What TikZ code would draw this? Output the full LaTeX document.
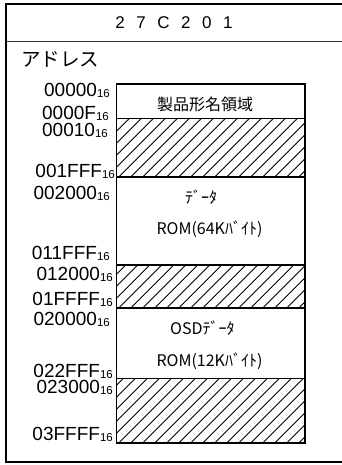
\documentclass[tikz,border=0pt]{standalone}
\usepackage{fontspec}
\setmainfont{Liberation Sans}
\newfontfamily\jp{Noto Sans CJK JP}
\newcommand\hexlab[1]{#1\raisebox{-1pt}{\fontsize{11.5}{12}\selectfont 16}}
\newcommand\tsp{\hspace{11.5pt}}
\newcommand\hatchband[2]{%
  \begin{scope}
    \clip (116.7,#1) rectangle (305,#2);
    \foreach \k in {0,...,26}{\draw[hatchline] (46.7+12*\k,#2) -- ++(75,-75);}
  \end{scope}}
\begin{document}
\begin{tikzpicture}[x=1pt,y=-1pt,
  addr/.style={anchor=base east, inner sep=0pt, font=\fontsize{19}{20}\selectfont},
  jtext/.style={inner sep=0pt, font=\jp\fontsize{16}{18}\selectfont},
  region/.style={draw=black, line width=1.2pt},
  hatchline/.style={line width=0.9pt},
  frame/.style={line width=2pt}]
\useasboundingbox (0,0) rectangle (341,465);
% outer frame (right side lies beyond the picture)
\draw[frame] (350,4.5) -- (5.5,4.5) -- (5.5,462) -- (350,462);
\draw[line width=1pt, black!80] (5.5,42) -- (350,42);
% title
\node[anchor=base, inner sep=0pt, font=\fontsize{17}{18}\selectfont] (title) at (174,29) {2\tsp7\tsp C\tsp2\tsp0\tsp1};
\node[anchor=base west, inner sep=0pt, font=\jp\fontsize{19.5}{21}\selectfont] (adr) at (21,67) {アドレス};
% hatched bands
\hatchband{118.3}{177}
\hatchband{265}{308}
\hatchband{378.3}{443}
% memory regions
\draw[region] (116.7,84) rectangle (305,443);
\draw[region] (116.7,118.3) -- (305,118.3);
\draw[region] (116.7,177) -- (305,177);
\draw[region] (116.7,265) -- (305,265);
\draw[region] (116.7,308) -- (305,308);
\draw[region] (116.7,378.3) -- (305,378.3);
% region texts
\node[jtext, anchor=base] (prod) at (205,110.5) {製品形名領域};
\node[jtext, anchor=base west] (data1) at (185,203) {ﾃﾞｰﾀ};
\node[jtext, anchor=base] (rom1) at (209.5,234.5) {ROM(64Kﾊﾞｲﾄ)};
\node[jtext, anchor=base west] (data2) at (170,334) {OSDﾃﾞｰﾀ};
\node[jtext, anchor=base] (rom2) at (209.5,366) {ROM(12Kﾊﾞｲﾄ)};
% addresses
\node[addr] (a1) at (110,97) {\hexlab{00000}};
\node[addr] (a2) at (109,119.5) {\hexlab{0000F}};
\node[addr] (a3) at (108,137) {\hexlab{00010}};
\node[addr] (a4) at (115,177) {\hexlab{001FFF}};
\node[addr] (a5) at (110,199) {\hexlab{002000}};
\node[addr] (a6) at (110,259) {\hexlab{011FFF}};
\node[addr] (a7) at (113,280) {\hexlab{012000}};
\node[addr] (a8) at (113,305) {\hexlab{01FFFF}};
\node[addr] (a9) at (110,325) {\hexlab{020000}};
\node[addr] (a10) at (113,377) {\hexlab{022FFF}};
\node[addr] (a11) at (113,393) {\hexlab{023000}};
\node[addr] (a12) at (113,440) {\hexlab{03FFFF}};
\end{tikzpicture}
\end{document}
